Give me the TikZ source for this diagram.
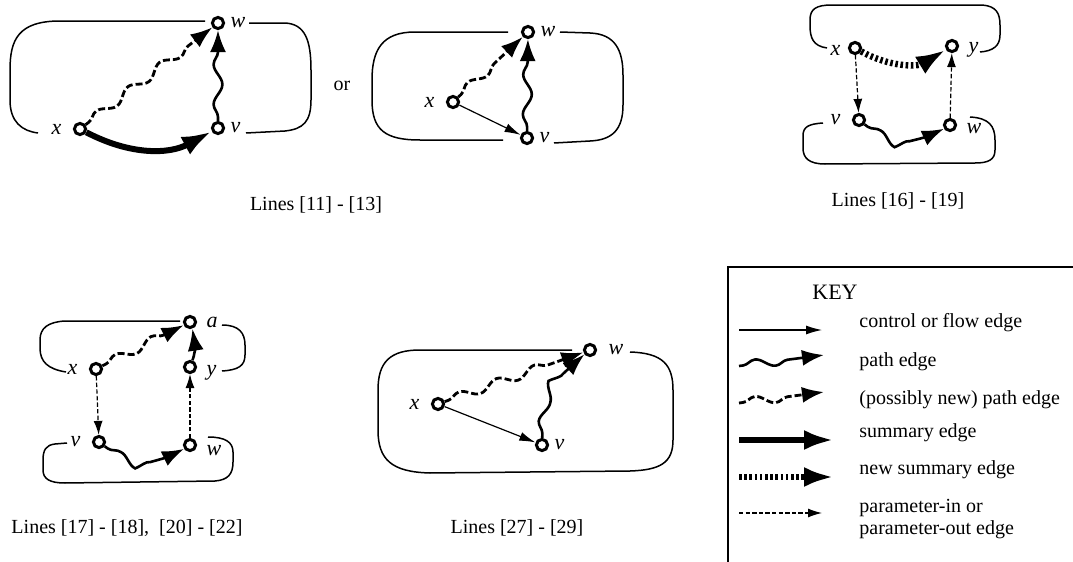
\documentclass[tikz,border=0pt]{standalone}
\usepackage{fontspec}
\setmainfont{Liberation Serif}
\usepackage{tikz}
\usetikzlibrary{arrows.meta,decorations.pathmorphing,positioning}

\tikzset{
  vtx/.style={circle,draw,fill=white,line width=1.5pt,inner sep=0pt,minimum size=5.6pt},
  lbl/.style={font=\fontsize{11}{12}\selectfont\itshape,inner sep=0.5pt},
  txt/.style={font=\fontsize{10}{11}\selectfont,inner sep=0pt},
  frame/.style={line width=0.75pt},
  flow/.style={line width=0.6pt,-{Latex[length=8pt,width=4.5pt]}},
  wavy/.style={decorate,decoration={snake,amplitude=2.2pt,segment length=20pt,pre length=2pt,post length=10pt}},
  pathedge/.style={wavy,line width=1.3pt,-{Latex[length=11pt,width=8pt]}},
  newpath/.style={wavy,line width=1.4pt,dash pattern=on 3.5pt off 1.5pt,-{Latex[length=11pt,width=8pt]}},
  summary/.style={line width=3pt,-{Latex[length=15pt,width=10pt]}},
  newsummary/.style={line width=3.2pt,dash pattern=on 1.3pt off 1.3pt,-{Latex[length=15pt,width=10pt]}},
  param/.style={line width=0.6pt,dash pattern=on 2.2pt off 1.1pt,-{Latex[length=7pt,width=4.5pt]}}
}

\begin{document}
\begin{tikzpicture}[x=0.5pt,y=-0.5pt]
\useasboundingbox (0,0) rectangle (1073,562);

\node[vtx] (wA) at (218,23) {};
\node[vtx] (xA) at (80,129) {};
\node[vtx] (vA) at (218,128) {};
\node[lbl,right=2pt of wA] (wAl) {w};
\node[lbl,left=5pt of xA] (xAl) {x};
\node[lbl,right=2pt of vA] (vAl) {v};
\draw[frame] (205,21) -- (60,21) .. controls (18,21) and (10,40) .. (10,70) -- (10,100) .. controls (10,122) and (22,131) .. (38,133);
\draw[frame] (249,23) -- (285,23) .. controls (305,24) and (311,40) .. (311,70) -- (311,100) .. controls (311,122) and (303,129) .. (285,131) -- (246,133);
\draw[newpath] (xA) -- (wA);
\draw[pathedge] (vA) -- (wA);
\draw[summary] (xA) to[bend right=28] (vA);
\node[txt] (or) at (342,86) {or};
\node[txt] (capA) at (316,205) {Lines [11] - [13]};

\node[vtx] (wB) at (528,32) {};
\node[vtx] (xB) at (453,102) {};
\node[vtx] (vB) at (527,138) {};
\node[lbl,right=2pt of wB] (wBl) {w};
\node[lbl,left=5pt of xB] (xBl) {x};
\node[lbl,right=2pt of vB] (vBl) {v};
\draw[frame] (508,32) -- (415,32) .. controls (382,32) and (372,50) .. (372,80) -- (372,100) .. controls (372,130) and (385,140) .. (420,140) -- (503,140);
\draw[frame] (560,32) -- (590,33) .. controls (615,34) and (623,50) .. (623,75) -- (623,105) .. controls (623,130) and (612,140) .. (590,141) -- (554,143);
\draw[flow] (xB) -- (vB);
\draw[newpath] (xB) -- (wB);
\draw[pathedge] (vB) -- (wB);

\node[vtx] (xC) at (855,48) {};
\node[vtx] (yC) at (952,46) {};
\node[vtx] (vC) at (859,120) {};
\node[vtx] (wC) at (950,125) {};
\node[lbl,left=3pt of xC,yshift=-1pt] (xCl) {x};
\node[lbl,right=4pt of yC,yshift=-2pt] (yCl) {y};
\node[lbl,left=5pt of vC] (vCl) {v};
\node[lbl,right=4pt of wC,yshift=-2pt] (wCl) {w};
\draw[frame] (827,48) .. controls (813,46) and (810,38) .. (810,25) -- (810,20) .. controls (810,9) and (816,5) .. (832,5) -- (982,5) .. controls (996,6) and (1000,13) .. (1000,25) -- (1000,35) .. controls (1000,46) and (993,51) .. (980,52);
\draw[frame] (970,117) .. controls (989,118) and (995,126) .. (995,140) -- (995,150) .. controls (995,160) and (988,163) .. (975,163) -- (825,164) .. controls (809,164) and (803,158) .. (803,148) -- (803,136) .. controls (803,127) and (808,124) .. (823,123);
\draw[param] (xC) -- (vC);
\draw[param] (wC) -- (yC);
\draw[pathedge] (vC) to[bend right=35] (wC);
\draw[newsummary] (xC) to[bend right=30] (yC);
\node[txt] (capC) at (898,201) {Lines [16] - [19]};

\node[vtx] (aD) at (190,322) {};
\node[vtx] (xD) at (96,369) {};
\node[vtx] (yD) at (190,367) {};
\node[vtx] (vD) at (99,442) {};
\node[vtx] (wD) at (190,445) {};
\node[lbl,right=4pt of aD] (aDl) {a};
\node[lbl,left=5pt of xD] (xDl) {x};
\node[lbl,right=4pt of yD,yshift=-3pt] (yDl) {y};
\node[lbl,left=5pt of vD] (vDl) {v};
\node[lbl,right=4pt of wD,yshift=-3pt] (wDl) {w};
\draw[frame] (180,321) -- (65,321) .. controls (48,322) and (40,328) .. (40,340) -- (40,348) .. controls (40,362) and (48,369) .. (66,372);
\draw[frame] (222,325) .. controls (239,325) and (245,333) .. (245,345) -- (245,355) .. controls (245,366) and (238,370) .. (222,371);
\draw[frame] (67,443) -- (55,444) .. controls (46,445) and (43,450) .. (43,460) -- (43,470) .. controls (43,479) and (50,483) .. (65,483) -- (215,481) .. controls (228,480) and (233,474) .. (233,462) -- (233,452) .. controls (233,442) and (225,437) .. (208,437);
\draw[param] (xD) -- (vD);
\draw[param] (wD) -- (yD);
\draw[pathedge] (vD) to[bend right=35] (wD);
\draw[newpath] (xD) -- (aD);
\draw[pathedge] (yD) to[bend right=20] (aD);
\node[txt] (capD) at (127,528) {Lines [17] - [18],\ \ [20] - [22]};

\node[vtx] (wE) at (590,350) {};
\node[vtx] (xE) at (438,404) {};
\node[vtx] (vE) at (542,445) {};
\node[lbl,right=5pt of wE] (wEl) {w};
\node[lbl,left=5pt of xE] (xEl) {x};
\node[lbl,right=2pt of vE] (vEl) {v};
\draw[frame] (630,352) .. controls (663,353) and (673,365) .. (673,390) -- (673,440) .. controls (673,463) and (660,470) .. (630,471) -- (430,473) .. controls (392,472) and (378,460) .. (378,430) -- (378,390) .. controls (378,362) and (390,350) .. (420,350) -- (572,350);
\draw[flow] (xE) -- (vE);
\draw[newpath] (xE) -- (wE);
\draw[pathedge] (vE) to[bend left=25] (wE);
\node[txt] (capE) at (517,528) {Lines [27] - [29]};

\draw[frame] (1073,267) -- (728,267) -- (728,562);
\node[txt,font=\fontsize{11}{12}\selectfont] (key) at (835,292) {KEY};
\coordinate (k1a) at (739,330); \coordinate (k1b) at (822,330);
\coordinate (k2a) at (739,366); \coordinate (k2b) at (824,355);
\coordinate (k3a) at (739,403); \coordinate (k3b) at (824,392);
\coordinate (k4a) at (739,440); \coordinate (k4b) at (834,440);
\coordinate (k5a) at (739,477); \coordinate (k5b) at (834,477);
\coordinate (k6a) at (739,513); \coordinate (k6b) at (822,513);
\draw[flow] (k1a) -- (k1b);
\draw[pathedge] (k2a) -- (k2b);
\draw[newpath] (k3a) -- (k3b);
\draw[summary] (k4a) -- (k4b);
\draw[newsummary] (k5a) -- (k5b);
\draw[param] (k6a) -- (k6b);
\node[txt,anchor=west] (k1t) at (859,323) {control or flow edge};
\node[txt,anchor=west] (k2t) at (859,362) {path edge};
\node[txt,anchor=west] (k3t) at (859,400) {(possibly new) path edge};
\node[txt,anchor=west] (k4t) at (859,433) {summary edge};
\node[txt,anchor=west] (k5t) at (859,470) {new summary edge};
\node[txt,anchor=west,align=left] (k6t) at (859,519) {parameter-in or\\parameter-out edge};
\end{tikzpicture}
\end{document}
